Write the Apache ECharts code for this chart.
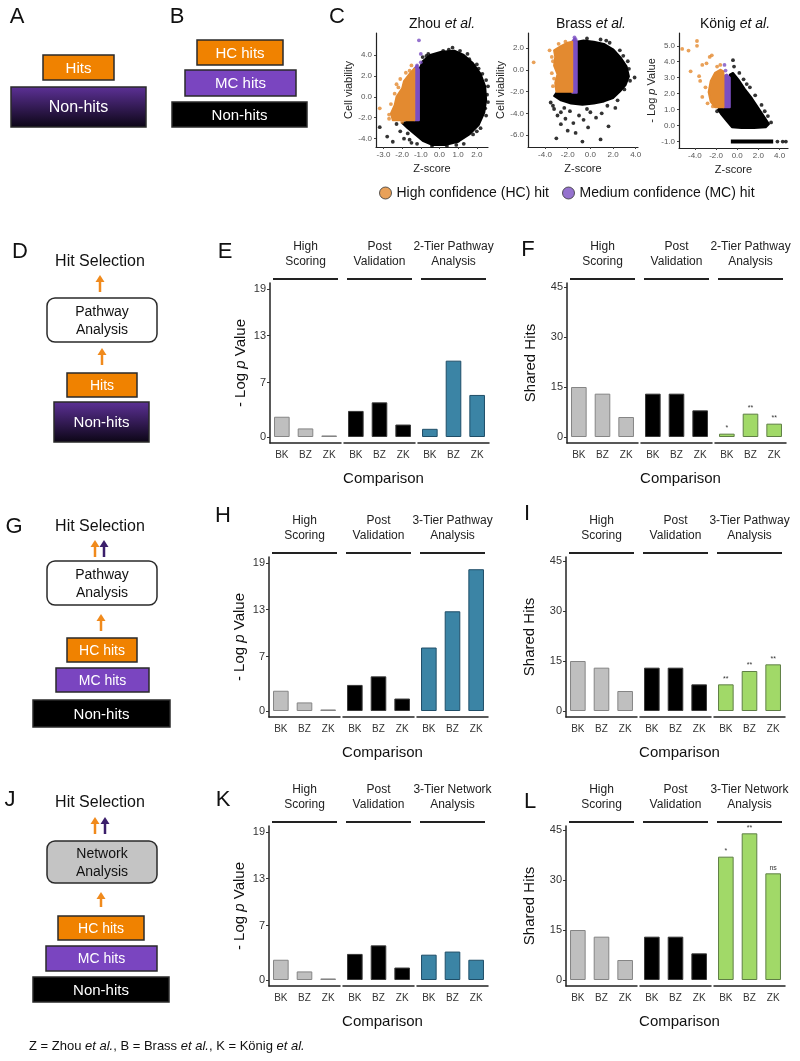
<!DOCTYPE html>
<html>
<head>
<meta charset="utf-8">
<script src="https://cdn.jsdelivr.net/npm/echarts@6/dist/echarts.min.js"></script>
<style>
  html, body { margin: 0; padding: 0; background: #fff; }
  #chart { width: 800px; height: 1061px; }
</style>
</head>
<body>
<div id="chart"></div>
<script>
// ---- bar data ----
const comparisons = ['BK', 'BZ', 'ZK']
const logPTicks = [0, 7, 13, 19]
const sharedTicks = [0, 15, 30, 45]

const highScoringLogP = [2.6, 1.1, 0.2]
const postValidationLogP = [3.35, 4.45, 1.6]
const pathway2LogP = [1.05, 9.8, 5.4]
const pathway3LogP = [8.15, 12.8, 18.2]
const network3LogP = [3.25, 3.65, 2.6]

const highScoringShared = [15, 13, 6]
const postValidationShared = [13, 13, 8]
const pathway2Shared = [1, 7, 4]
const pathway3Shared = [8, 12, 14]
const network3Shared = [37, 44, 32]

const pathway2Sig = ['*', '**', '**']
const pathway3Sig = ['**', '**', '**']
const network3Sig = ['*', '**', 'ns']

// ---- scatter data: dense clouds as outlines, sparse points as points ----
const zhouCloud = [[-1.1, -2.25], [-1.1, 2.5], [-0.9, 3.4], [-0.5, 4.0], [0.1, 4.3], [0.8, 4.4], [1.3, 4.0], [1.8, 3.2], [2.2, 2.2], [2.45, 1.0], [2.5, -0.3], [2.4, -1.5], [2.1, -2.7], [1.6, -3.6], [1.0, -4.3], [0.3, -4.6], [-0.4, -4.6], [-0.9, -4.2], [-1.3, -3.6], [-1.7, -3.0], [-2.0, -2.5], [-1.5, -2.3]]
const zhouMC = [[-1.35, -2.25], [-1.1, -2.25], [-1.1, 2.6], [-1.2, 3.0], [-1.35, 2.7]]
const zhouHC = [[-2.5, -2.25], [-2.6, -1.6], [-2.4, -0.8], [-2.3, 0], [-2.0, 0.8], [-1.9, 1.5], [-1.6, 2.2], [-1.35, 2.7], [-1.35, -2.25]]
const zhouPoints = [[-3.2, -2.9], [-2.8, -3.8], [-2.5, -4.3], [-2.1, -3.3], [-1.9, -4.0], [-1.7, -3.5], [-1.5, -4.4], [-1.2, -4.5], [-0.9, 3.8], [-0.6, 4.1], [0.2, 4.4], [0.7, 4.7], [1.1, 4.4], [1.6, 3.6], [2.0, 3.1], [2.3, 2.2], [2.6, 1.0], [2.6, -0.5], [2.5, -1.8], [2.2, -3.0], [1.8, -3.6], [1.3, -4.5], [0.4, -4.7], [-0.4, -4.7], [2.7, -2.4], [1.0, -4.2], [-2.3, -2.6], [-0.7, 3.9], [0.5, 4.5], [1.5, 4.1], [2.1, 2.7], [2.5, 1.6], [2.55, 0.2], [2.45, -1.1], [2.0, -3.3], [0.9, -4.6], [-0.1, -4.5], [-1.0, -3.9], [-1.6, -4.1]]
const zhouHCPoints = [[-3.2, -1.1], [-2.7, -1.7], [-2.6, -0.7], [-2.3, 1.2], [-2.1, 1.7], [-1.8, 2.3], [-1.6, 2.5], [-1.5, 3.0], [-2.0, -2.4], [-2.4, 0.3], [-2.7, -2.1], [-2.2, 0.9]]
const zhouMCPoints = [[-1.1, 5.4], [-1.0, 4.1], [-1.0, 3.3], [-1.2, 3.0]]

const brassCloud = [[-1.2, -2.1], [-1.2, 2.6], [-0.6, 2.7], [0.3, 2.6], [1.2, 2.4], [2.0, 1.9], [2.7, 1.1], [3.2, 0.3], [3.4, -0.6], [3.1, -1.4], [2.6, -2.0], [2.0, -2.6], [1.2, -2.9], [0.3, -3.1], [-0.7, -3.2], [-1.7, -3.1], [-2.6, -2.8], [-3.2, -2.4], [-3.0, -2.1]]
const brassMC = [[-1.6, -2.1], [-1.2, -2.1], [-1.2, 2.6], [-1.4, 2.9], [-1.6, 2.6]]
const brassHC = [[-3.0, -2.0], [-3.1, -1.2], [-2.9, -0.4], [-3.2, 0.4], [-3.1, 1.2], [-3.2, 1.8], [-2.6, 2.2], [-2.0, 2.5], [-1.6, 2.6], [-1.6, -2.0]]
const brassPoints = [[-3.5, -3.0], [-3.2, -3.6], [-2.9, -4.2], [-2.6, -3.9], [-2.2, -4.5], [-1.8, -3.8], [-1.5, -4.9], [-1.0, -4.2], [-0.6, -4.6], [0.0, -3.9], [0.5, -4.4], [1.0, -4.0], [1.6, -5.2], [2.2, -3.5], [-3.0, -6.3], [-2.0, -5.6], [-0.7, -6.6], [0.9, -6.4], [-0.2, -5.3], [-2.6, -5.0], [3.5, -1.0], [3.9, -0.7], [3.3, 0.8], [2.6, 1.8], [1.7, 2.5], [0.9, 2.8], [-0.3, 2.9], [3.0, -1.8], [2.4, -2.8], [-1.3, -5.8], [2.9, 1.3], [3.4, 0.1], [1.4, 2.7], [-3.3, -3.3], [-2.3, -3.5], [-0.3, -3.6], [1.5, -3.3]]
const brassHCPoints = [[-5.0, 0.7], [-3.6, 1.8], [-3.4, 1.2], [-3.4, -0.3], [-3.3, -1.5], [-2.8, 2.4], [-2.2, 2.6], [-3.3, 0.8], [-3.2, -0.8]]
const brassMCPoints = [[-1.4, 3.0], [-1.3, 2.8]]

const koenigCloud = [[-0.7, 1.15], [-0.7, 3.2], [-0.4, 3.3], [0.1, 2.9], [0.7, 2.3], [1.4, 1.7], [2.0, 1.1], [2.6, 0.5], [3.0, 0.1], [2.7, -0.1], [1.6, -0.15], [0.4, -0.15], [-0.5, -0.1], [-1.0, 0.3], [-1.5, 0.7], [-1.8, 1.0], [-1.6, 1.15]]
const koenigMC = [[-1.3, 1.15], [-0.7, 1.15], [-0.7, 3.0], [-1.0, 3.2], [-1.3, 3.1]]
const koenigHC = [[-2.1, 1.15], [-2.5, 1.5], [-2.7, 2.1], [-2.5, 2.8], [-2.1, 3.3], [-1.6, 3.5], [-1.3, 3.4], [-1.3, 1.15]]
const koenigFloor = [[-0.6, -1], [3.4, -1]]
const koenigPoints = [[-0.4, 4.1], [-0.3, 3.7], [0.2, 3.3], [0.6, 2.9], [1.2, 2.4], [1.7, 1.9], [2.3, 1.3], [2.9, 0.6], [3.2, 0.2], [3.8, -1], [4.3, -1], [4.6, -1], [-1.9, 0.9], [0.9, 2.6], [2.6, 0.9]]
const koenigHCPoints = [[-5.2, 4.8], [-4.6, 4.7], [-3.8, 5.3], [-3.8, 5.0], [-4.4, 3.4], [-3.6, 3.1], [-3.3, 3.8], [-2.9, 3.9], [-2.6, 4.3], [-2.4, 4.4], [-3.0, 2.4], [-3.3, 1.8], [-2.8, 1.4], [-2.3, 1.2], [-1.9, 3.7], [-1.6, 3.8], [-3.5, 2.8]]
const koenigMCPoints = [[-1.2, 3.8], [-1.1, 3.45]]

const FONT = 'Liberation Sans, Arial, sans-serif'
const ORANGE = '#e38a30'
const PURPLE = '#7b4fc2'
const HC_NAME = 'High confidence (HC) hit'
const MC_NAME = 'Medium confidence (MC) hit'

const grid = []
const xAxis = []
const yAxis = []
const series = []
const elements = []

function text (x, y, str, size, opts = {}) {
  elements.push({
    type: 'text',
    x,
    y,
    style: {
      text: str,
      fill: opts.color || '#111',
      fontSize: size,
      fontFamily: FONT,
      fontStyle: opts.italic ? 'italic' : 'normal',
      align: opts.align || 'center',
      verticalAlign: 'middle',
      lineHeight: opts.lineHeight || Math.round(size * 1.2),
      rich: opts.rich,
    },
  })
}

function line (x1, y1, x2, y2, color, width) {
  elements.push({ type: 'line', shape: { x1, y1, x2, y2 }, style: { stroke: color, lineWidth: width } })
}

function box (x, y, w, h, fill, label, size, opts = {}) {
  elements.push({
    type: 'rect',
    shape: { x, y, width: w, height: h, r: opts.r || 0 },
    style: { fill, stroke: opts.stroke || '#2a2a2a', lineWidth: opts.lw || 1.5 },
  })
  text(x + w / 2, y + h / 2 + 1, label, size, { color: opts.color || '#fff', lineHeight: Math.round(size * 1.25) })
}

function arrow (x, yBottom, yTop, color) {
  line(x, yBottom, x, yTop + 6, color, 2.5)
  elements.push({ type: 'polygon', shape: { points: [[x - 4.5, yTop + 7], [x + 4.5, yTop + 7], [x, yTop]] }, style: { fill: color } })
}

const purpleFade = new echarts.graphic.LinearGradient(0, 0, 0, 1, [
  { offset: 0, color: '#5d3197' },
  { offset: 1, color: '#0b0514' },
])

// ---- panel letters ----
text(17, 17, 'A', 22)
text(177, 17, 'B', 22)
text(337, 17, 'C', 22)
text(20, 252, 'D', 22)
text(225, 252, 'E', 22)
text(528, 250, 'F', 22)
text(14, 527, 'G', 22)
text(223, 516, 'H', 22)
text(527, 514, 'I', 22)
text(10, 800, 'J', 22)
text(223, 800, 'K', 22)
text(530, 802, 'L', 22)

// ---- A / B ----
box(43, 55, 71, 25, '#f08200', 'Hits', 15)
box(11, 87, 135, 40, purpleFade, 'Non-hits', 16)
box(197, 40, 86, 25, '#f08200', 'HC hits', 15)
box(185, 70, 111, 26, '#7a45c0', 'MC hits', 15)
box(172, 102, 135, 25, '#000', 'Non-hits', 15)

// ---- D ----
text(100, 262, 'Hit Selection', 16)
arrow(100, 292, 275, '#f08a1c')
box(47, 298, 110, 44, '#fff', 'Pathway\nAnalysis', 14, { r: 8, color: '#111' })
arrow(102, 365, 348, '#f08a1c')
box(67, 373, 70, 24, '#f08200', 'Hits', 14)
box(54, 402, 95, 40, purpleFade, 'Non-hits', 15)

// ---- G ----
text(100, 527, 'Hit Selection', 16)
arrow(95, 557, 540, '#f08a1c')
arrow(104, 557, 540, '#3b1f6b')
box(47, 561, 110, 44, '#fff', 'Pathway\nAnalysis', 14, { r: 8, color: '#111' })
arrow(101, 631, 614, '#f08a1c')
box(67, 638, 70, 24, '#f08200', 'HC hits', 14)
box(56, 668, 93, 24, '#7a45c0', 'MC hits', 14)
box(33, 700, 137, 27, '#000', 'Non-hits', 15)

// ---- J ----
text(100, 803, 'Hit Selection', 16)
arrow(95, 834, 817, '#f08a1c')
arrow(105, 834, 817, '#3b1f6b')
box(47, 841, 110, 42, '#c4c4c4', 'Network\nAnalysis', 14, { r: 8, color: '#111' })
arrow(101, 907, 892, '#f08a1c')
box(58, 916, 86, 24, '#f08200', 'HC hits', 14)
box(46, 946, 111, 25, '#7a45c0', 'MC hits', 14)
box(33, 977, 136, 25, '#000', 'Non-hits', 15)

text(29, 1046, '{a|Z = Zhou }{b|et al.}{a|, B = Brass }{b|et al.}{a|, K = König }{b|et al.}', 13, {
  align: 'left',
  rich: {
    a: { fontSize: 13, fontFamily: FONT, fill: '#111' },
    b: { fontSize: 13, fontFamily: FONT, fontStyle: 'italic', fill: '#111' },
  },
})

// ---- C: scatter panels ----
function polygonSeries (gi, verts, color) {
  return {
    type: 'custom',
    coordinateSystem: 'cartesian2d',
    xAxisIndex: gi,
    yAxisIndex: gi,
    silent: true,
    data: verts,
    renderItem: (params, api) => {
      if (params.dataIndex !== 0) return
      return {
        type: 'polygon',
        shape: { points: verts.map(v => api.coord(v)) },
        style: { fill: color, stroke: color, lineWidth: 2, lineJoin: 'round' },
      }
    },
  }
}

function pointSeries (gi, pts, color, name) {
  return {
    type: 'scatter',
    name,
    xAxisIndex: gi,
    yAxisIndex: gi,
    data: pts,
    symbolSize: 3.8,
    itemStyle: { color },
    silent: true,
  }
}

function scatterPanel (cfg) {
  const gi = grid.length
  grid.push({ left: cfg.left, top: 33, width: cfg.width, height: cfg.height })
  const axisBase = {
    gridIndex: gi,
    type: 'value',
    splitLine: { show: false },
    axisLine: { onZero: false, lineStyle: { color: '#222', width: 1.2 } },
    nameLocation: 'middle',
  }
  xAxis.push(Object.assign({}, axisBase, {
    min: cfg.xMin,
    max: cfg.xMax,
    axisTick: { customValues: cfg.xTicks, length: 2, lineStyle: { color: '#444' } },
    axisLabel: { customValues: cfg.xTicks, fontSize: 8, color: '#555', margin: 4, fontFamily: FONT, formatter: v => v.toFixed(1) },
    name: 'Z-score',
    nameGap: 16,
    nameTextStyle: { fontSize: 11, color: '#222', fontFamily: FONT },
  }))
  yAxis.push(Object.assign({}, axisBase, {
    min: cfg.yMin,
    max: cfg.yMax,
    axisTick: { customValues: cfg.yTicks, length: 2, lineStyle: { color: '#444' } },
    axisLabel: { customValues: cfg.yTicks, fontSize: 8, color: '#555', margin: 4, fontFamily: FONT, formatter: v => v.toFixed(1) },
    name: cfg.yName,
    nameRotate: 90,
    nameGap: cfg.yNameGap,
    nameTextStyle: {
      fontSize: 11,
      color: '#222',
      fontFamily: FONT,
      rich: {
        a: { fontSize: 11, color: '#222', fontFamily: FONT },
        i: { fontSize: 11, color: '#222', fontFamily: FONT, fontStyle: 'italic' },
      },
    },
  }))
  series.push(polygonSeries(gi, cfg.cloud, '#000'))
  series.push(polygonSeries(gi, cfg.mc, PURPLE))
  series.push(polygonSeries(gi, cfg.hc, ORANGE))
  if (cfg.floor) {
    series.push({
      type: 'line', xAxisIndex: gi, yAxisIndex: gi, data: cfg.floor,
      symbol: 'none', silent: true, lineStyle: { color: '#000', width: 4 },
    })
  }
  series.push(pointSeries(gi, cfg.points, '#000', 'other'))
  series.push(pointSeries(gi, cfg.mcPoints, PURPLE, MC_NAME))
  series.push(pointSeries(gi, cfg.hcPoints, ORANGE, HC_NAME))
  text(cfg.titleX, 24, '{a|' + cfg.title + ' }{i|et al.}', 14, {
    rich: {
      a: { fontSize: 14, fontFamily: FONT, fill: '#111' },
      i: { fontSize: 14, fontFamily: FONT, fontStyle: 'italic', fill: '#111' },
    },
  })
}

scatterPanel({
  left: 376, width: 112, height: 114, xMin: -3.4, xMax: 2.6, yMin: -4.8, yMax: 6.1,
  xTicks: [-3, -2, -1, 0, 1, 2], yTicks: [-4, -2, 0, 2, 4],
  yName: 'Cell viability', yNameGap: 20, title: 'Zhou', titleX: 442,
  cloud: zhouCloud, mc: zhouMC, hc: zhouHC, points: zhouPoints, mcPoints: zhouMCPoints, hcPoints: zhouHCPoints,
})
scatterPanel({
  left: 528, width: 110, height: 114, xMin: -5.5, xMax: 4.2, yMin: -7.1, yMax: 3.4,
  xTicks: [-4, -2, 0, 2, 4], yTicks: [-6, -4, -2, 0, 2],
  yName: 'Cell viability', yNameGap: 20, title: 'Brass', titleX: 591,
  cloud: brassCloud, mc: brassMC, hc: brassHC, points: brassPoints, mcPoints: brassMCPoints, hcPoints: brassHCPoints,
})
scatterPanel({
  left: 679, width: 109, height: 115, xMin: -5.5, xMax: 4.8, yMin: -1.4, yMax: 5.8,
  xTicks: [-4, -2, 0, 2, 4], yTicks: [-1, 0, 1, 2, 3, 4, 5],
  yName: '{a|- Log }{i|p}{a| Value}', yNameGap: 18, title: 'König', titleX: 735,
  cloud: koenigCloud, mc: koenigMC, hc: koenigHC, floor: koenigFloor,
  points: koenigPoints, mcPoints: koenigMCPoints, hcPoints: koenigHCPoints,
})

// ---- bar panels (ggplot-style facets) ----
const GRAY = { color: '#bfbfbf', borderColor: '#858585', borderWidth: 1 }
const BLACK = { color: '#000', borderColor: '#3a3a3a', borderWidth: 1 }
const BLUE = { color: '#3b84a5', borderColor: '#1f4e68', borderWidth: 1 }
const GREEN = { color: '#a1d968', borderColor: '#5f7f45', borderWidth: 1 }

function barPanel (axisX, top, kind, titles, data, styles, sig) {
  const facetW = 71
  const step = 74
  const plotH = 160
  const isLogP = kind === 'logp'
  const ticks = isLogP ? logPTicks : sharedTicks
  for (let i = 0; i < 3; i++) {
    const gi = grid.length
    const left = axisX + i * step
    grid.push({ left, top, width: facetW, height: plotH })
    xAxis.push({
      gridIndex: gi,
      type: 'category',
      data: comparisons,
      axisLine: { onZero: false, lineStyle: { color: '#222', width: 1.5 } },
      axisTick: { show: false },
      axisLabel: { fontSize: 10, color: '#333', margin: 7, fontFamily: FONT },
    })
    yAxis.push({
      gridIndex: gi,
      type: 'value',
      min: isLogP ? -0.77 : -1.8,
      max: isLogP ? 19.77 : 46.2,
      splitLine: { show: false },
      axisLine: { show: i === 0, onZero: false, lineStyle: { color: '#222', width: 1.5 } },
      axisTick: { show: i === 0, customValues: ticks, length: 3, lineStyle: { color: '#333' } },
      axisLabel: { show: i === 0, customValues: ticks, fontSize: 11, color: '#333', margin: 4, fontFamily: FONT },
      name: i === 0 ? (isLogP ? '{a|- Log }{i|p}{a| Value}' : 'Shared Hits') : '',
      nameLocation: 'middle',
      nameRotate: 90,
      nameGap: isLogP ? 22 : 29,
      nameTextStyle: {
        fontSize: 15,
        color: '#111',
        fontFamily: FONT,
        rich: {
          a: { fontSize: 15, color: '#111', fontFamily: FONT },
          i: { fontSize: 15, color: '#111', fontFamily: FONT, fontStyle: 'italic' },
        },
      },
    })
    const s = {
      type: 'bar',
      xAxisIndex: gi,
      yAxisIndex: gi,
      data: data[i],
      barWidth: '66%',
      itemStyle: styles[i],
      silent: true,
    }
    if (sig && i === 2) {
      s.label = {
        show: true,
        position: 'top',
        distance: 2,
        fontSize: 7,
        color: '#333',
        fontFamily: FONT,
        formatter: p => sig[p.dataIndex],
      }
    }
    series.push(s)
    // strip header
    const cx = left + facetW / 2
    text(cx, top - 29, titles[i], 12, { color: '#222', lineHeight: 15 })
    line(left + 3, top - 4, left + facetW - 3, top - 4, '#222', 2)
  }
  text(axisX + (2 * step + facetW) / 2 + 4, top + 196, 'Comparison', 15)
}

const pathway2Titles = ['High\nScoring', 'Post\nValidation', '2-Tier Pathway\nAnalysis']
const pathway3Titles = ['High\nScoring', 'Post\nValidation', '3-Tier Pathway\nAnalysis']
const network3Titles = ['High\nScoring', 'Post\nValidation', '3-Tier Network\nAnalysis']

barPanel(270, 283, 'logp', pathway2Titles, [highScoringLogP, postValidationLogP, pathway2LogP], [GRAY, BLACK, BLUE])
barPanel(567, 283, 'shared', pathway2Titles, [highScoringShared, postValidationShared, pathway2Shared], [GRAY, BLACK, GREEN], pathway2Sig)
barPanel(269, 557, 'logp', pathway3Titles, [highScoringLogP, postValidationLogP, pathway3LogP], [GRAY, BLACK, BLUE])
barPanel(566, 557, 'shared', pathway3Titles, [highScoringShared, postValidationShared, pathway3Shared], [GRAY, BLACK, GREEN], pathway3Sig)
barPanel(269, 826, 'logp', network3Titles, [highScoringLogP, postValidationLogP, network3LogP], [GRAY, BLACK, BLUE])
barPanel(566, 826, 'shared', network3Titles, [highScoringShared, postValidationShared, network3Shared], [GRAY, BLACK, GREEN], network3Sig)

const myChart = echarts.init(document.getElementById('chart'), null, { renderer: 'canvas' })
myChart.setOption({
  animation: false,
  backgroundColor: '#fff',
  textStyle: { fontFamily: FONT },
  legend: {
    left: 374,
    top: 181,
    icon: 'circle',
    itemWidth: 12,
    itemHeight: 12,
    itemGap: 13,
    selectedMode: false,
    textStyle: { fontSize: 14, color: '#111', fontFamily: FONT },
    data: [
      { name: HC_NAME, itemStyle: { color: ORANGE, borderColor: '#333', borderWidth: 1 } },
      { name: MC_NAME, itemStyle: { color: PURPLE, borderColor: '#333', borderWidth: 1 } },
    ],
  },
  grid,
  xAxis,
  yAxis,
  series,
  graphic: { elements },
})
</script>
</body>
</html>
